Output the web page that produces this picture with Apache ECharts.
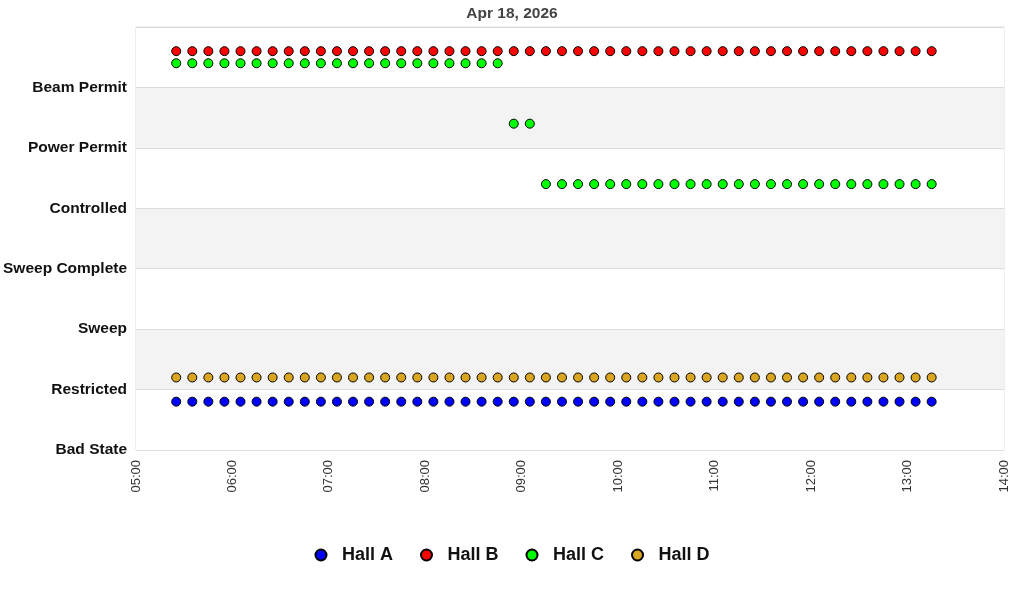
<!DOCTYPE html>
<html>
<head>
<meta charset="utf-8">
<script src="https://cdn.jsdelivr.net/npm/echarts@6/dist/echarts.min.js"></script>
<style>
html,body{margin:0;padding:0;background:#fff;}
#chart{width:1024px;height:600px;}
</style>
</head>
<body>
<div id="chart"></div>
<script>
const title = 'Apr 18, 2026';
const day = '2026-04-18';
const stateLabels = ['Bad State', 'Restricted', 'Sweep', 'Sweep Complete', 'Controlled', 'Power Permit', 'Beam Permit', ''];
const times = ['05:25','05:35','05:45','05:55','06:05','06:15','06:25','06:35','06:45','06:55',
  '07:05','07:15','07:25','07:35','07:45','07:55','08:05','08:15','08:25','08:35',
  '08:45','08:55','09:05','09:15','09:25','09:35','09:45','09:55','10:05','10:15',
  '10:25','10:35','10:45','10:55','11:05','11:15','11:25','11:35','11:45','11:55',
  '12:05','12:15','12:25','12:35','12:45','12:55','13:05','13:15'];
const hallA = [0.8,0.8,0.8,0.8,0.8,0.8,0.8,0.8,0.8,0.8,0.8,0.8,0.8,0.8,0.8,0.8,0.8,0.8,0.8,0.8,0.8,0.8,0.8,0.8,
  0.8,0.8,0.8,0.8,0.8,0.8,0.8,0.8,0.8,0.8,0.8,0.8,0.8,0.8,0.8,0.8,0.8,0.8,0.8,0.8,0.8,0.8,0.8,0.8];
const hallB = [6.6,6.6,6.6,6.6,6.6,6.6,6.6,6.6,6.6,6.6,6.6,6.6,6.6,6.6,6.6,6.6,6.6,6.6,6.6,6.6,6.6,6.6,6.6,6.6,
  6.6,6.6,6.6,6.6,6.6,6.6,6.6,6.6,6.6,6.6,6.6,6.6,6.6,6.6,6.6,6.6,6.6,6.6,6.6,6.6,6.6,6.6,6.6,6.6];
const hallC = [6.4,6.4,6.4,6.4,6.4,6.4,6.4,6.4,6.4,6.4,6.4,6.4,6.4,6.4,6.4,6.4,6.4,6.4,6.4,6.4,6.4,5.4,5.4,4.4,
  4.4,4.4,4.4,4.4,4.4,4.4,4.4,4.4,4.4,4.4,4.4,4.4,4.4,4.4,4.4,4.4,4.4,4.4,4.4,4.4,4.4,4.4,4.4,4.4];
const hallD = [1.2,1.2,1.2,1.2,1.2,1.2,1.2,1.2,1.2,1.2,1.2,1.2,1.2,1.2,1.2,1.2,1.2,1.2,1.2,1.2,1.2,1.2,1.2,1.2,
  1.2,1.2,1.2,1.2,1.2,1.2,1.2,1.2,1.2,1.2,1.2,1.2,1.2,1.2,1.2,1.2,1.2,1.2,1.2,1.2,1.2,1.2,1.2,1.2];
const seriesNames = ['Hall A', 'Hall B', 'Hall C', 'Hall D'];
const seriesValues = [hallA, hallB, hallC, hallD];
const colors = ['#0000ff', '#ff0000', '#00ff00', '#daa520'];
const xStart = '05:00', xEnd = '14:00';

function ts(t) { return new Date(day + 'T' + t + ':00').getTime(); }
const HOUR = 3600 * 1000;
const FONT = '"Liberation Sans", Arial, sans-serif';

const chart = echarts.init(document.getElementById('chart'), null, {renderer: 'canvas'});
chart.setOption({
  animation: false,
  backgroundColor: '#fff',
  title: {
    text: title, left: 'center', top: 1,
    textStyle: {fontFamily: FONT, fontSize: 15.5, fontWeight: 'bold', color: '#444'}
  },
  grid: {left: 136, right: 20, top: 27, bottom: 150, show: true, borderColor: '#dcdcdc', borderWidth: 1, backgroundColor: 'transparent'},
  legend: {
    bottom: 31, left: 'center', icon: 'circle', itemWidth: 32, itemHeight: 11, itemGap: 27,
    textStyle: {fontFamily: FONT, fontSize: 18, fontWeight: 'bold', color: '#111'},
    data: seriesNames
  },
  xAxis: {
    type: 'time', min: ts(xStart), max: ts(xEnd), minInterval: HOUR, maxInterval: HOUR,
    axisLine: {show: false}, axisTick: {show: false}, splitLine: {show: false},
    axisLabel: {
      rotate: 90, margin: 10, fontFamily: FONT, fontSize: 13, color: '#333',
      showMinLabel: true, showMaxLabel: true, hideOverlap: false,
      formatter: function (v) { const d = new Date(v); return String(d.getHours()).padStart(2, '0') + ':' + String(d.getMinutes()).padStart(2, '0'); }
    }
  },
  yAxis: {
    type: 'value', min: 0, max: stateLabels.length - 1, interval: 1,
    axisLine: {show: false}, axisTick: {show: false},
    splitLine: {show: true, lineStyle: {color: '#dcdcdc', width: 1}},
    splitArea: {show: true, areaStyle: {color: ['#ffffff', '#f3f3f3']}},
    axisLabel: {
      margin: 9, fontFamily: FONT, fontSize: 15.5, fontWeight: 'bold', color: '#111',
      formatter: function (v) { return stateLabels[Math.round(v)] || ''; }
    }
  },
  series: seriesNames.map(function (name, i) {
    return {
      name: name, type: 'scatter', symbol: 'circle', symbolSize: 9,
      itemStyle: {color: colors[i], borderColor: '#000', borderWidth: 1, opacity: 1},
      data: times.map(function (t, j) { return [ts(t), seriesValues[i][j]]; })
    };
  })
});
</script>
</body>
</html>
